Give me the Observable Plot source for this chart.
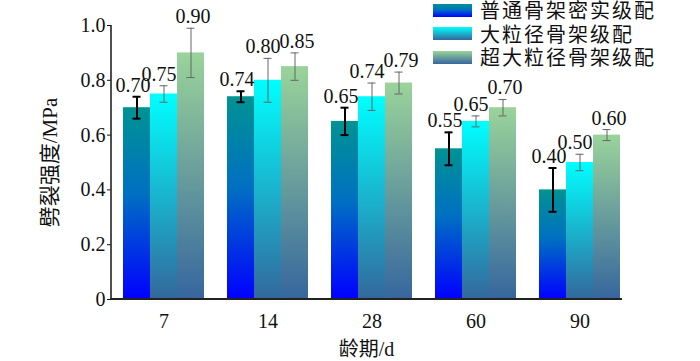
<!DOCTYPE html>
<html><head><meta charset="utf-8">
<script src="https://cdn.jsdelivr.net/npm/d3@7"></script>
<script src="https://cdn.jsdelivr.net/npm/@observablehq/plot@0.6"></script>
<style>
body{margin:0;background:#fff}
#wrap{position:relative;width:700px;height:361px}
#legend{position:absolute;left:433px;top:-1.75px;font-family:'Noto Sans CJK SC',sans-serif;font-size:20px;letter-spacing:2px;color:#111}
.row{display:flex;align-items:center;height:23.5px;white-space:nowrap}
.row span{line-height:20px;display:block}
.sw{width:39px;height:13px;margin-right:8px;flex:none}
</style></head><body><div id="wrap"><div id="legend"></div></div>
<script>
const ages = ["7", "14", "28", "60", "90"];
const series = ["普通骨架密实级配", "大粒径骨架级配", "超大粒径骨架级配"];
const values1 = [0.70, 0.74, 0.65, 0.55, 0.40];
const errors1 = [0.04, 0.02, 0.05, 0.06, 0.08];
const values2 = [0.75, 0.80, 0.74, 0.65, 0.50];
const errors2 = [0.03, 0.08, 0.05, 0.02, 0.03];
const values3 = [0.90, 0.85, 0.79, 0.70, 0.60];
const errors3 = [0.09, 0.05, 0.04, 0.03, 0.02];
const yTicks = [0, 0.2, 0.4, 0.6, 0.8, 1.0];
const xLabel = "龄期/d";
const yLabel = "劈裂强度/MPa";

const gradientStops = [
  [["0%", "#009393"], ["45%", "#0070C2"], ["100%", "#0000FF"]],
  [["0%", "#00FFFF"], ["100%", "#33689C"]],
  [["0%", "#9AD49A"], ["100%", "#36669E"]]
];

const valueSets = [values1, values2, values3];
const errorSets = [errors1, errors2, errors3];
const data = [];
ages.forEach((age, i) => {
  series.forEach((s, j) => {
    data.push({age, series: s, value: valueSets[j][i], err: errorSets[j][i], k: j});
  });
});

const serif = "'Liberation Serif', 'Noto Sans CJK SC', serif";
const errMarks = (k, stroke, sw) => {
  const d = data.filter(r => r.k === k);
  return [
    Plot.ruleX(d, {fx: "age", x: "series", y1: r => r.value - r.err, y2: r => r.value + r.err, stroke, strokeWidth: sw}),
    Plot.tickY(d, {fx: "age", x: "series", y: r => r.value + r.err, stroke, strokeWidth: sw, insetLeft: 9.5, insetRight: 9.5}),
    Plot.tickY(d, {fx: "age", x: "series", y: r => r.value - r.err, stroke, strokeWidth: sw, insetLeft: 9.5, insetRight: 9.5})
  ];
};
const labelMarks = (k, dx) => Plot.text(data.filter(r => r.k === k), {
  fx: "age", x: "series", y: r => r.value + r.err, text: r => r.value.toFixed(2),
  dy: -5, dx, lineAnchor: "bottom", fill: "#111", fontSize: 20, fontFamily: serif
});

const chart = Plot.plot({
  width: 700, height: 361,
  marginLeft: 111, marginRight: 78, marginTop: 25, marginBottom: 62,
  style: {fontFamily: serif, fontSize: "20px", color: "#111", background: "#fff"},
  fx: {domain: ages, paddingInner: 0.0944, paddingOuter: 0},
  x: {domain: series, axis: null, paddingInner: 0, paddingOuter: 0, insetLeft: 11},
  y: {domain: [0, 1]},
  color: {domain: series, range: ["url(#g0)", "url(#g1)", "url(#g2)"]},
  marks: [
    Plot.barY(data, {fx: "age", x: "series", y: "value", fill: "series"}),
    ...errMarks(0, "#000", 2),
    ...errMarks(1, "#666", 1),
    ...errMarks(2, "#666", 1),
    labelMarks(0, -4),
    labelMarks(1, -5),
    labelMarks(2, 2),
    Plot.axisY({ticks: yTicks, tickFormat: d => d === 0 ? "0" : d.toFixed(1), tickSize: 4, tickPadding: 2, fontSize: 20, label: null}),
    Plot.axisY({ticks: [], label: yLabel, labelAnchor: "center", labelOffset: 69, labelArrow: "none", fontSize: 21}),
    Plot.axisFx({anchor: "bottom", tickSize: 0, tickPadding: 14, dx: 5.5, label: xLabel, labelAnchor: "center", labelOffset: 56, labelArrow: "none", fontSize: 20})
  ]
});

const svg = d3.select(chart);
const defs = svg.insert("defs", ":first-child");
gradientStops.forEach((stops, i) => {
  const g = defs.append("linearGradient").attr("id", "g" + i)
    .attr("x1", 0).attr("y1", 0).attr("x2", 0).attr("y2", 1);
  stops.forEach(([o, c]) => g.append("stop").attr("offset", o).attr("stop-color", c));
});
const ys = chart.scale("y");
const yBottom = ys.apply(0), yTop = ys.apply(1);
svg.append("line").attr("x1", 111).attr("x2", 111).attr("y1", yTop).attr("y2", yBottom + 1)
  .attr("stroke", "#222").attr("stroke-width", 1.6);
svg.append("line").attr("x1", 110).attr("x2", 700 - 78).attr("y1", yBottom).attr("y2", yBottom)
  .attr("stroke", "#222").attr("stroke-width", 2);

document.getElementById("wrap").appendChild(chart);
chart.style.position = "absolute"; chart.style.left = "0"; chart.style.top = "0";
const legend = document.getElementById("legend");
document.getElementById("wrap").appendChild(legend);
series.forEach((s, i) => {
  const row = document.createElement("div"); row.className = "row";
  const sw = document.createElement("div"); sw.className = "sw";
  sw.style.background = `linear-gradient(to bottom, ${gradientStops[i].map(([o, c]) => c + " " + o).join(", ")})`;
  const t = document.createElement("span"); t.textContent = s;
  row.appendChild(sw); row.appendChild(t); legend.appendChild(row);
});
</script></body></html>
